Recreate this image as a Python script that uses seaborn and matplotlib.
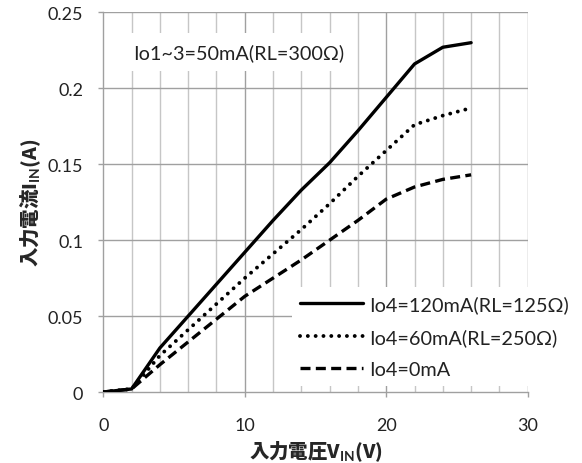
import pandas as pd
import matplotlib
matplotlib.use("Agg")
import matplotlib.pyplot as plt
import seaborn as sns

# --- data ---
v_in = [0, 2, 4, 6, 8, 10, 12, 14, 16, 18, 20, 22, 24, 26]
i_120ma = [0.000, 0.002, 0.029, 0.050, 0.071, 0.092, 0.113, 0.133, 0.151, 0.172, 0.194, 0.216, 0.227, 0.230]
i_60ma = [0.000, 0.002, 0.024, 0.041, 0.058, 0.075, 0.091, 0.107, 0.124, 0.142, 0.159, 0.176, 0.182, 0.187]
i_0ma = [0.000, 0.002, 0.018, 0.033, 0.048, 0.063, 0.075, 0.087, 0.100, 0.113, 0.127, 0.135, 0.140, 0.143]
labels = ["Io4=120mA(RL=125Ω)", "Io4=60mA(RL=250Ω)", "Io4=0mA"]
note = "Io1~3=50mA(RL=300Ω)"

df = pd.DataFrame({"v": v_in, "a": i_120ma, "b": i_60ma, "c": i_0ma})

sns.set_theme(style="white")
plt.rcParams["font.family"] = ["Lato", "DejaVu Sans"]
plt.rcParams["mathtext.fontset"] = "custom"
plt.rcParams["mathtext.bf"] = "Lato:bold"
plt.rcParams["mathtext.rm"] = "Lato"

fig = plt.figure(figsize=(5.82, 4.64), dpi=100)
ax = fig.add_axes([0.1775, 0.153, 0.7292, 0.8183])

# grid: light minor lines every 2 V, darker at 10 V and every 0.05 A
for xv in range(2, 30, 2):
    if xv % 10:
        ax.axvline(xv, color="#c6c6c6", lw=1.0, zorder=0)
for xv in (10, 20, 30):
    ax.axvline(xv, color="#a0a0a0", lw=1.0, zorder=0)
for yv in (0.05, 0.1, 0.15, 0.2, 0.25):
    ax.axhline(yv, color="#a0a0a0", lw=1.0, zorder=0)

lw = 2.4
sns.lineplot(data=df, x="v", y="a", ax=ax, color="black", lw=lw,
             label=labels[0], zorder=3)
sns.lineplot(data=df, x="v", y="b", ax=ax, color="black", lw=2.8,
             linestyle=(0, (0.01, 2.0)), dash_capstyle="round",
             label=labels[1], zorder=3)
sns.lineplot(data=df, x="v", y="c", ax=ax, color="black", lw=lw,
             linestyle=(0, (3.0, 1.6)), label=labels[2], zorder=3)

ax.set_xlim(0, 30)
ax.set_ylim(0, 0.25)
ax.set_xticks([0, 10, 20, 30])
ax.set_yticks([0, 0.05, 0.1, 0.15, 0.2, 0.25])
ax.set_yticklabels(["0", "0.05", "0.1", "0.15", "0.2", "0.25"])
ax.tick_params(axis="both", direction="out", length=3.6, width=1,
               color="#a0a0a0", labelsize=13, labelcolor="#222222", pad=11,
               left=True, bottom=True)
ax.tick_params(axis="x", pad=14.5)

for s in ("top", "right"):
    ax.spines[s].set_visible(False)
for s in ("left", "bottom"):
    ax.spines[s].set_color("#a0a0a0")
    ax.spines[s].set_linewidth(1.0)

cjk = ["Noto Sans CJK JP", "DejaVu Sans"]
ax.set_xlabel(r"入力電圧V$_{\mathbf{IN}}$(V)", fontsize=14, fontweight="black",
              family=cjk, labelpad=4)
ax.set_ylabel(r"入力電流I$_{\mathbf{IN}}$(A)", fontsize=14, fontweight="black",
              family=cjk, labelpad=3)

ax.text(2.12, 0.2238, note, fontsize=14.3, va="center", ha="left", color="#222222",
        bbox=dict(facecolor="white", edgecolor="none", pad=7), zorder=2)

leg = ax.legend(loc="upper left", bbox_to_anchor=(0.4446, 0.2765),
                frameon=True, fontsize=14.3, handlelength=3.2,
                handletextpad=0.3, labelspacing=0.75, borderaxespad=0)
leg.get_frame().set_edgecolor("none")
leg.get_frame().set_facecolor("white")
leg.get_frame().set_alpha(1.0)
for t in leg.get_texts():
    t.set_color("#222222")

fig.savefig("out.png", dpi=100)
